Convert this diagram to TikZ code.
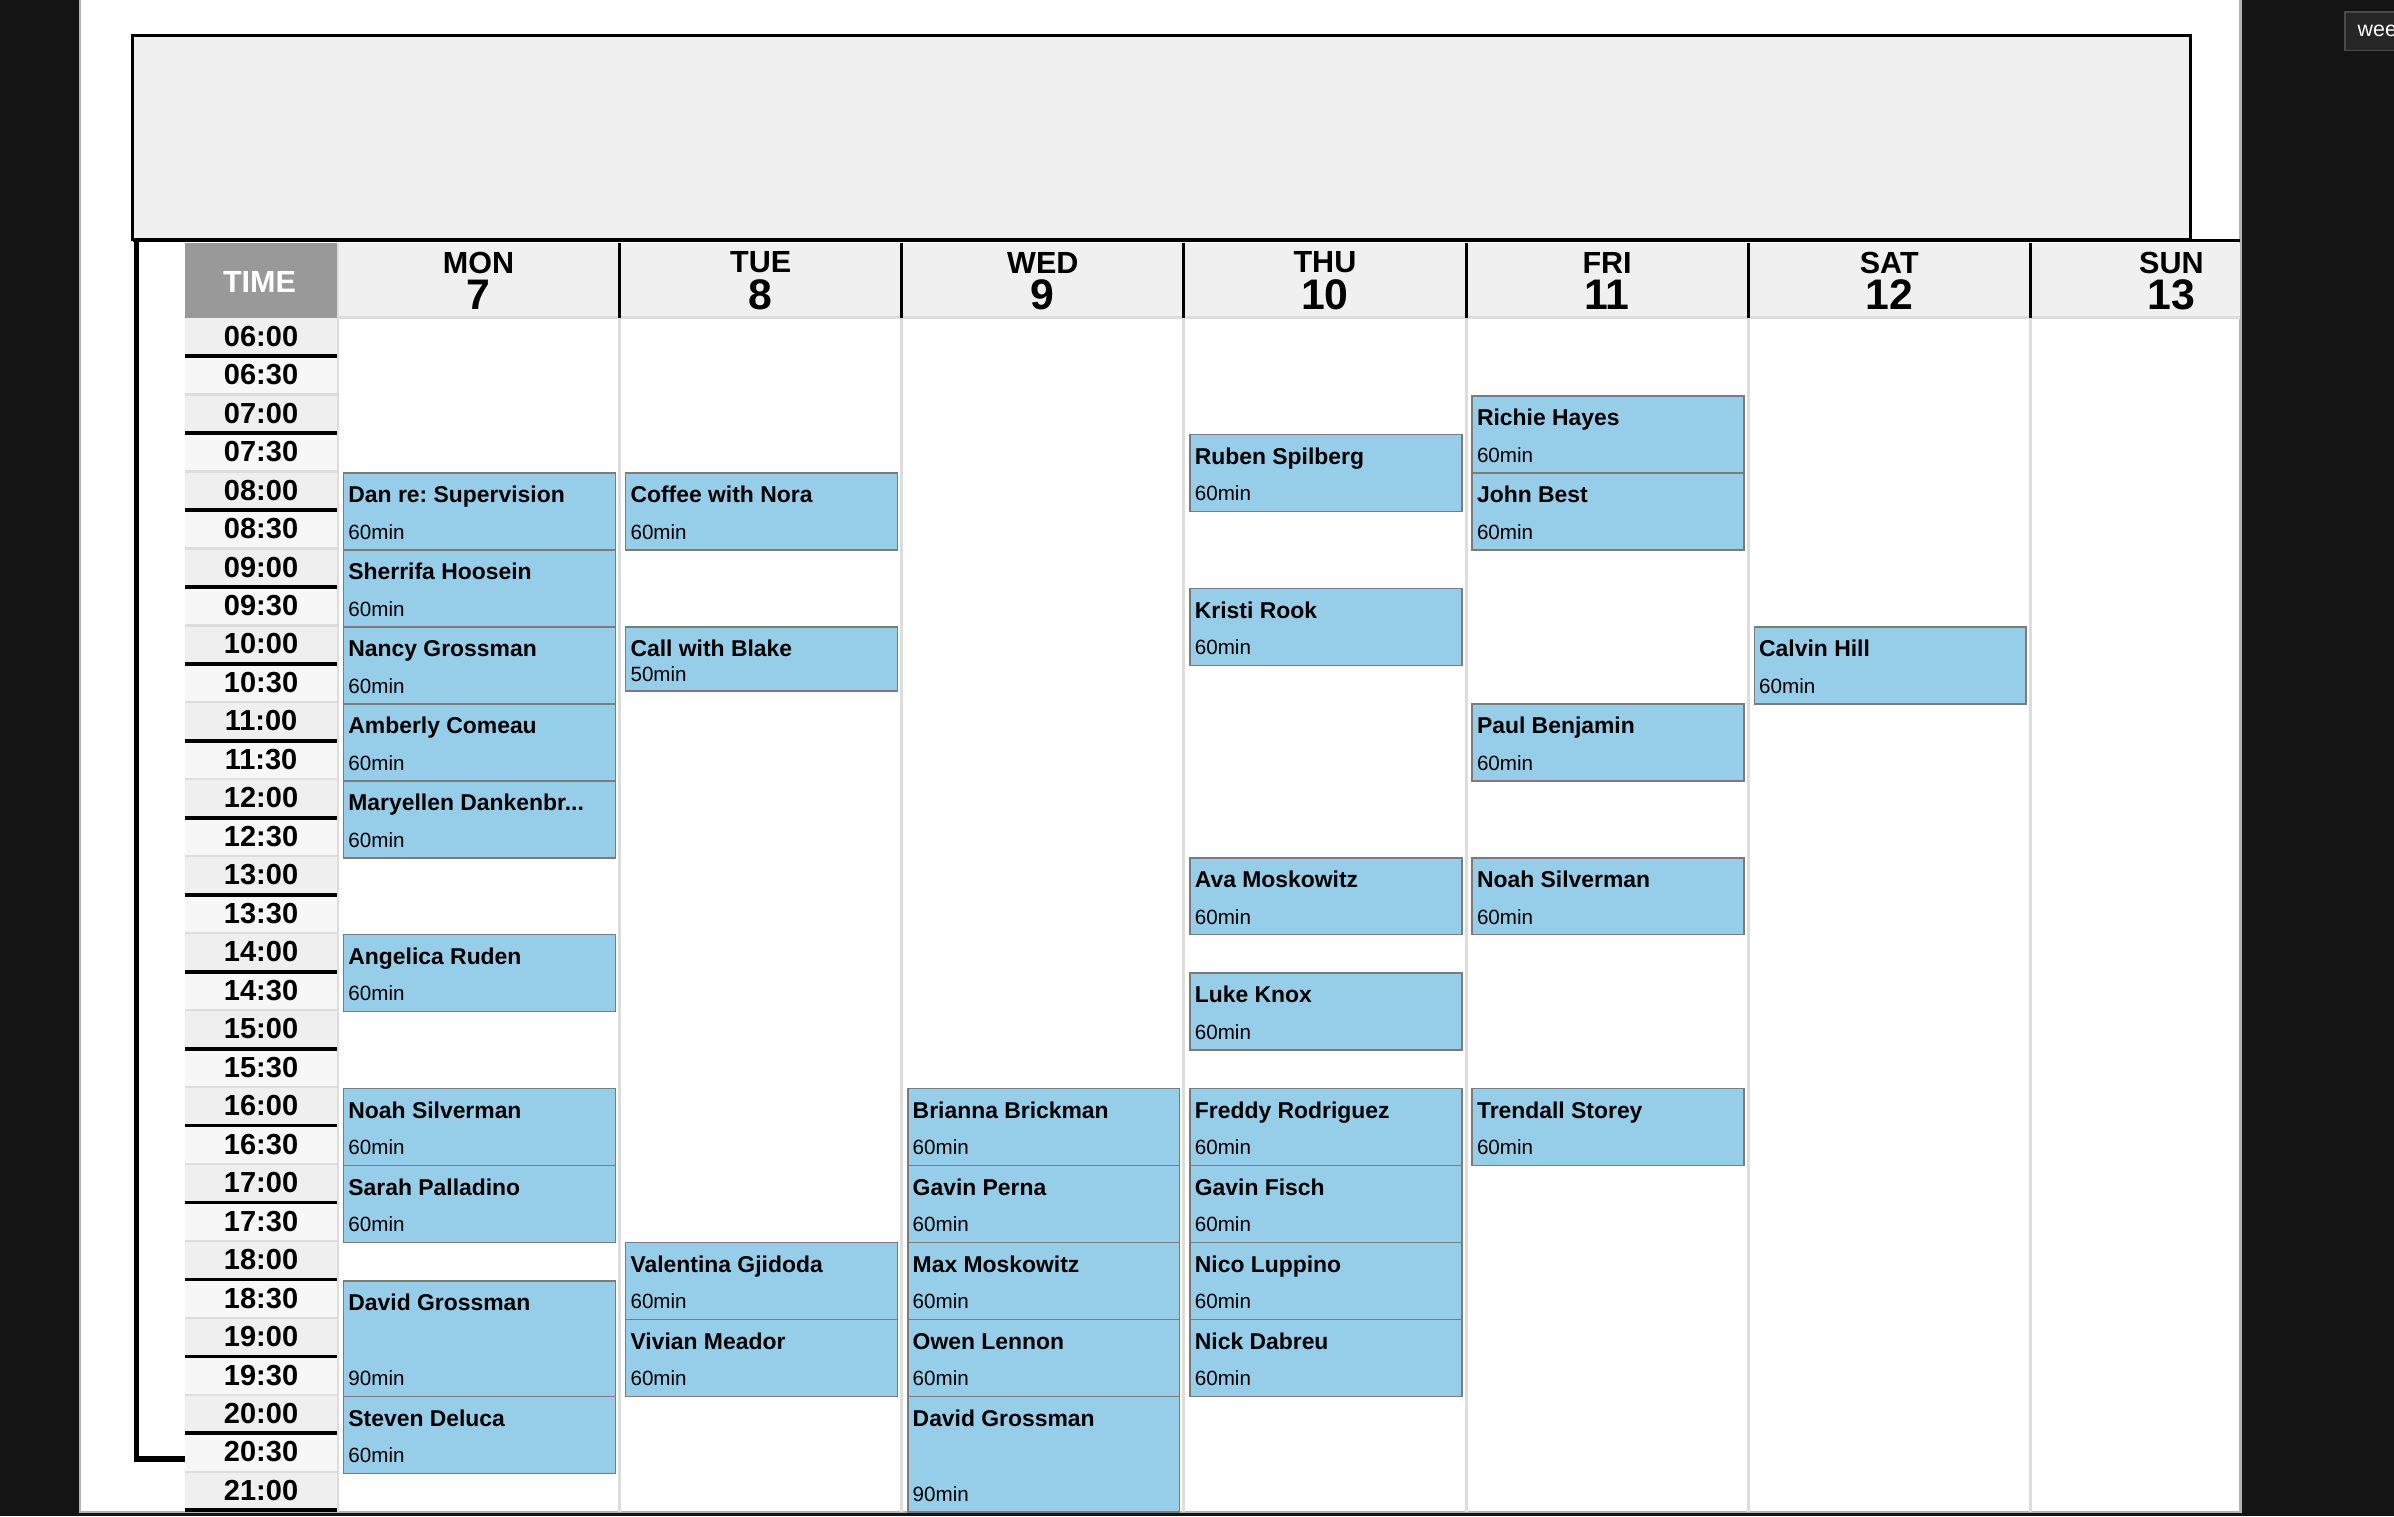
\documentclass[tikz,border=0pt]{standalone}
\usepackage{fontspec}
\setmainfont{Liberation Sans}
\frenchspacing
\definecolor{pageblack}{HTML}{141414}
\definecolor{panelgray}{HTML}{F0F0F0}
\definecolor{hourgray}{HTML}{EFEFEF}
\definecolor{halfgray}{HTML}{F7F7F7}
\definecolor{timehead}{HTML}{999999}
\definecolor{gridgray}{HTML}{DDDDDD}
\definecolor{eventblue}{HTML}{96CDE8}
\definecolor{eventedge}{HTML}{7B7B7B}
\definecolor{btngray}{HTML}{262626}

\newcommand\cutdots{...}

\tikzset{
  timelbl/.style={inner sep=0pt, font=\fontsize{19}{20}\selectfont\bfseries},
  daylbl/.style={inner sep=0pt, font=\fontsize{20}{22}\selectfont\bfseries},
  daynum/.style={inner sep=0pt, font=\fontsize{28}{30}\selectfont\bfseries},
  evbox/.style={fill=eventblue, draw=eventedge, line width=1pt},
  evname/.style={inner sep=0pt, anchor=base west, font=\fontsize{15}{17}\selectfont\bfseries},
  evlen/.style={inner sep=0pt, anchor=base west, font=\fontsize{13.5}{15}\selectfont},
}

\begin{document}
\begin{tikzpicture}[x=1pt,y=-1pt]
\useasboundingbox (0,0) rectangle (1568,993);
% screen and page
\fill[pageblack] (0,0) rectangle (1568,993);
\fill[white] (53,0) rectangle (1467,990);
\draw[gray!60, line width=1.5pt] (52.5,0) -- (52.5,990.5) -- (1467.5,990.5) -- (1467.5,0);
% button in the corner
\draw[btngray!60!gray, fill=btngray, line width=1pt] (1536,8) rectangle (1575,33);
\node[anchor=west, inner sep=0pt, text=white, font=\fontsize{14}{16}\selectfont] (btn) at (1544,20.5) {wee};

% empty panel on top
\draw[fill=panelgray, line width=2pt] (87,23) rectangle (1435,157);

% header row
\fill[panelgray] (221,159) rectangle (1467,208);
\fill[timehead] (121,159) rectangle (221,208);
\node[inner sep=0pt, text=white, font=\fontsize{20}{22}\selectfont\bfseries] (timehd) at (170,185) {TIME};
\foreach \dn/\num [count=\i from 0] in {MON/7,TUE/8,WED/9,THU/10,FRI/11,SAT/12,SUN/13}{
  \pgfmathsetmacro\cx{221+184.8*\i+92.4}
  \node[daylbl] (d\i) at (\cx,172) {\dn};
  \node[daynum] (n\i) at (\cx,193) {\num};
}
\draw[gridgray, line width=2pt] (221,208) -- (1467,208);
\foreach \i in {1,...,6}{
  \pgfmathsetmacro\cx{221+184.8*\i}
  \draw[gridgray, line width=2pt] (\cx,208) -- (\cx,990);
  \draw[black, line width=2pt] (\cx,159) -- (\cx,208);
}
\draw[gridgray, line width=1.5pt] (221.5,159) -- (221.5,990);

% time column
\foreach \t [count=\k from 0] in {06:00,06:30,07:00,07:30,08:00,08:30,09:00,09:30,10:00,10:30,11:00,11:30,12:00,12:30,13:00,13:30,14:00,14:30,15:00,15:30,16:00,16:30,17:00,17:30,18:00,18:30,19:00,19:30,20:00,20:30,21:00}{
  \pgfmathsetmacro\rowtop{208+\k*25.2}
  \ifodd\k
    \fill[halfgray] (121,\rowtop) rectangle (221,\rowtop+25.2);
    \draw[black, line width=2.5pt] (121,\rowtop) -- (221,\rowtop);
  \else
    \fill[hourgray] (121,\rowtop) rectangle (221,\rowtop+25.2);
    \ifnum\k>0 \draw[gridgray, line width=1.5pt] (121,\rowtop) -- (221,\rowtop); \fi
  \fi
  \node[timelbl] (t\k) at (171,\rowtop+12.2) {\t};
}
\draw[black, line width=2.5pt] (121,989.2) -- (221,989.2);

% thick bracket on the left
\draw[black, line width=2.5pt] (87,157.5) -- (1467,157.5);
\draw[black, line width=3.5pt] (89.5,157) -- (89.5,955.5) -- (121,955.5);

% events: day/start slot/slots/name/length
\foreach \d/\s/\n/\who/\len in {
  0/4/2/Dan re: Supervision/60min, 0/6/2/Sherrifa Hoosein/60min,
  0/8/2/Nancy Grossman/60min, 0/10/2/Amberly Comeau/60min,
  0/12/2/Maryellen Dankenbr\cutdots/60min, 0/16/2/Angelica Ruden/60min,
  0/20/2/Noah Silverman/60min, 0/22/2/Sarah Palladino/60min,
  0/25/3/David Grossman/90min, 0/28/2/Steven Deluca/60min,
  1/4/2/Coffee with Nora/60min, 1/8/1.6667/Call with Blake/50min,
  1/24/2/Valentina Gjidoda/60min, 1/26/2/Vivian Meador/60min,
  2/20/2/Brianna Brickman/60min, 2/22/2/Gavin Perna/60min,
  2/24/2/Max Moskowitz/60min, 2/26/2/Owen Lennon/60min,
  2/28/3/David Grossman/90min,
  3/3/2/Ruben Spilberg/60min, 3/7/2/Kristi Rook/60min,
  3/14/2/Ava Moskowitz/60min, 3/17/2/Luke Knox/60min,
  3/20/2/Freddy Rodriguez/60min, 3/22/2/Gavin Fisch/60min,
  3/24/2/Nico Luppino/60min, 3/26/2/Nick Dabreu/60min,
  4/2/2/Richie Hayes/60min, 4/4/2/John Best/60min,
  4/10/2/Paul Benjamin/60min, 4/14/2/Noah Silverman/60min,
  4/20/2/Trendall Storey/60min,
  5/8/2/Calvin Hill/60min}{
  \pgfmathsetmacro\evx{221+184.8*\d+4}
  \pgfmathsetmacro\evtop{208+\s*25.2+1}
  \pgfmathsetmacro\evbot{208+(\s+\n)*25.2+1}
  \pgfmathsetmacro\lenY{ifthenelse(\n<2, \evtop+35.5, \evbot-7)}
  \draw[evbox] (\evx,\evtop) rectangle (\evx+178,\evbot);
  \node[evname] (ev\d-\s) at (\evx+3,\evtop+19.5) {\who};
  \node[evlen] (len\d-\s) at (\evx+3,\lenY) {\len};
}
\end{tikzpicture}
\end{document}
